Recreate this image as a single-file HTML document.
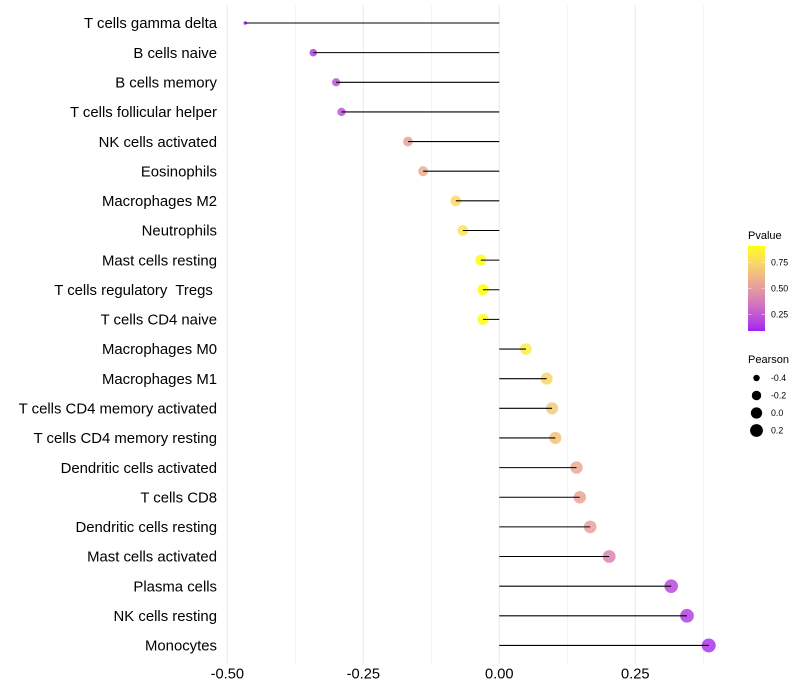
<!DOCTYPE html>
<html lang="en">
<head>
<meta charset="utf-8">
<title>Pearson lollipop chart</title>
<style>
html,body{margin:0;padding:0;background:#fff;}
svg{display:block;}
text{font-family:"Liberation Sans",sans-serif;fill:#000;white-space:pre;}
</style>
</head>
<body>
<svg id="chart" xmlns="http://www.w3.org/2000/svg" width="800" height="700" viewBox="0 0 800 700">
<defs>
<linearGradient id="pvalue-gradient" x1="0" y1="1" x2="0" y2="0"></linearGradient>
</defs>
<g id="grid"></g>
<g id="points"></g>
<g id="segments"></g>
<g id="ylabels"></g>
<g id="xlabels"></g>
<g id="legend-p">
<text x="748" y="239" font-size="11">Pvalue</text>
<rect x="748" y="246" width="17" height="85" fill="url(#pvalue-gradient)"></rect>
</g>
<g id="legend-s">
<text x="748" y="363" font-size="11">Pearson</text>
</g>
</svg>
<script>
const categories = ["T cells gamma delta","B cells naive","B cells memory","T cells follicular helper","NK cells activated","Eosinophils","Macrophages M2","Neutrophils","Mast cells resting","T cells regulatory  Tregs ","T cells CD4 naive","Macrophages M0","Macrophages M1","T cells CD4 memory activated","T cells CD4 memory resting","Dendritic cells activated","T cells CD8","Dendritic cells resting","Mast cells activated","Plasma cells","NK cells resting","Monocytes"];
const pearson = [-0.467,-0.342,-0.300,-0.290,-0.168,-0.140,-0.080,-0.067,-0.034,-0.030,-0.030,0.049,0.087,0.097,0.103,0.142,0.148,0.167,0.202,0.316,0.345,0.385];
const pvalues = [0.09,0.16,0.22,0.23,0.52,0.58,0.76,0.80,0.90,0.91,0.90,0.83,0.74,0.69,0.66,0.56,0.54,0.52,0.40,0.20,0.17,0.14];
const xMajorTicks = [-0.5,-0.25,0,0.25];
const xMinorTicks = [-0.375,-0.125,0.125,0.375];
const xTickLabels = ["-0.50","-0.25","0.00","0.25"];
const pLegendTicks = [0.75,0.5,0.25];
const pLegendLabels = ["0.75","0.50","0.25"];
const sizeLegendValues = [-0.4,-0.2,0,0.2];
const sizeLegendLabels = ["-0.4","-0.2","0.0","0.2"];

const NS = "http://www.w3.org/2000/svg";
function mk(tag, attrs, parent) {
  const el = document.createElementNS(NS, tag);
  for (const k in attrs) el.setAttribute(k, attrs[k]);
  parent.appendChild(el);
  return el;
}
function xScale(v) { return 499.3 + v * 544; }
function yScale(i) { return 23 + i * 29.64; }
const PANEL_TOP = 5.2, PANEL_BOTTOM = 663.2;
const sMin = Math.min(...pearson), sMax = Math.max(...pearson);
function radius(v) {
  const t = Math.max(0, (v - sMin) / (sMax - sMin));
  return 1.8 + 5.2 * Math.sqrt(t);
}
function toLab(r, g, b) {
  const f = c => { c /= 255; return c > 0.04045 ? Math.pow((c + 0.055) / 1.055, 2.4) : c / 12.92; };
  const R = f(r), G = f(g), B = f(b);
  const X = (0.4124 * R + 0.3576 * G + 0.1805 * B) / 0.95047;
  const Y = 0.2126 * R + 0.7152 * G + 0.0722 * B;
  const Z = (0.0193 * R + 0.1192 * G + 0.9505 * B) / 1.08883;
  const h = t => t > 0.008856 ? Math.cbrt(t) : 7.787 * t + 16 / 116;
  return [116 * h(Y) - 16, 500 * (h(X) - h(Y)), 200 * (h(Y) - h(Z))];
}
function fromLab(L, a, b) {
  const fy = (L + 16) / 116, fx = fy + a / 500, fz = fy - b / 200;
  const h = t => t * t * t > 0.008856 ? t * t * t : (t - 16 / 116) / 7.787;
  const X = h(fx) * 0.95047, Y = h(fy), Z = h(fz) * 1.08883;
  const g = c => {
    c = c > 0.0031308 ? 1.055 * Math.pow(c, 1 / 2.4) - 0.055 : 12.92 * c;
    return Math.round(Math.min(1, Math.max(0, c)) * 255);
  };
  return "rgb(" + g(3.2406 * X - 1.5372 * Y - 0.4986 * Z) + "," + g(-0.9689 * X + 1.8758 * Y + 0.0415 * Z) + "," + g(0.0557 * X - 0.204 * Y + 1.057 * Z) + ")";
}
const LOW = toLab(160, 32, 240), HIGH = toLab(255, 255, 0);
const P_MIN = 0.09, P_MAX = 0.91;
function colorAt(t) {
  t = Math.min(1, Math.max(0, t));
  return fromLab(LOW[0] + (HIGH[0] - LOW[0]) * t, LOW[1] + (HIGH[1] - LOW[1]) * t, LOW[2] + (HIGH[2] - LOW[2]) * t);
}
function pColor(p) { return colorAt((p - P_MIN) / (P_MAX - P_MIN)); }

const grid = document.getElementById("grid");
xMinorTicks.forEach(v => {
  const el = mk("line", {x1: xScale(v), x2: xScale(v), y1: PANEL_TOP, y2: PANEL_BOTTOM, stroke: "#ebebeb", "stroke-width": 0.53}, grid);
  
  
});
xMajorTicks.forEach(v => {
  const el = mk("line", {x1: xScale(v), x2: xScale(v), y1: PANEL_TOP, y2: PANEL_BOTTOM, stroke: "#ebebeb", "stroke-width": 1.07}, grid);
  
  
});

const pts = document.getElementById("points");
const segs = document.getElementById("segments");
const ylab = document.getElementById("ylabels");
categories.forEach((c, i) => {
  const y = yScale(i);
  const dot = mk("circle", {cx: xScale(pearson[i]), cy: y, r: radius(pearson[i]), fill: pColor(pvalues[i]), "fill-opacity": 0.85}, pts);
  
  
  const seg = mk("line", {x1: xScale(0), x2: xScale(pearson[i]), y1: y, y2: y, stroke: "#000", "stroke-width": 1.07}, segs);
  
  
  const t = mk("text", {x: 217, y: y + 5.2, "text-anchor": "end", "font-size": 14.9}, ylab);
  
  
  t.textContent = c;
});

const xlab = document.getElementById("xlabels");
xMajorTicks.forEach((v, i) => {
  const t = mk("text", {x: xScale(v), y: 678.3, "text-anchor": "middle", "font-size": 14.67}, xlab);
  
  
  t.textContent = xTickLabels[i];
});

const grad = document.getElementById("pvalue-gradient");
for (let i = 0; i <= 20; i++) {
  mk("stop", {offset: (i * 5) + "%", "stop-color": colorAt(i / 20)}, grad);
}
const lp = document.getElementById("legend-p");
function pLegendY(p) { return 331 - (p - P_MIN) * (85 / (P_MAX - P_MIN)); }
pLegendTicks.forEach((p, i) => {
  const y = pLegendY(p);
  const a = mk("line", {x1: 748, x2: 751.4, y1: y, y2: y, stroke: "#fff", "stroke-opacity": 0.75, "stroke-width": 0.6}, lp);
  
  
  const b = mk("line", {x1: 761.6, x2: 765, y1: y, y2: y, stroke: "#fff", "stroke-opacity": 0.75, "stroke-width": 0.6}, lp);
  
  
  const t = mk("text", {x: 771, y: y + 3.1, "font-size": 8.8}, lp);
  
  
  t.textContent = pLegendLabels[i];
});

const ls = document.getElementById("legend-s");
sizeLegendValues.forEach((v, i) => {
  const y = 378 + i * 17.5;
  const c = mk("circle", {cx: 756.5, cy: y, r: radius(v), fill: "#000"}, ls);
  
  
  const t = mk("text", {x: 771, y: y + 3.1, "font-size": 8.8}, ls);
  
  
  t.textContent = sizeLegendLabels[i];
});
</script>
</body>
</html>
